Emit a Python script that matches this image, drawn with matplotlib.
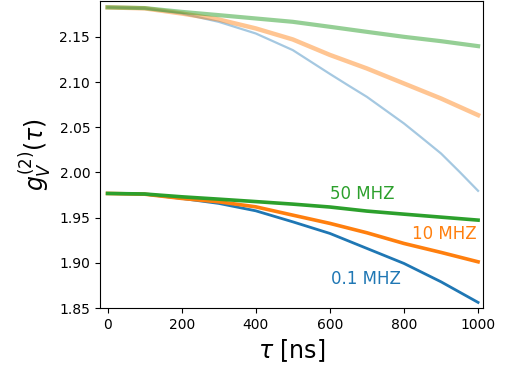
import matplotlib
matplotlib.use('Agg')
import matplotlib.pyplot as plt

# delay values (ns)
tau = [0, 100, 200, 300, 400, 500, 600, 700, 800, 900, 1000]
tau_fine = [0, 100, 200, 300, 400, 500, 600, 650, 700, 750, 800, 850, 900, 950, 1000]

# lower set (strong colours)
g_01_low = [1.9768, 1.9760, 1.9713, 1.9658, 1.9576, 1.9454, 1.9326, 1.9160, 1.8994, 1.8791, 1.8563]
g_10_low = [1.9768, 1.9760, 1.9713, 1.9676, 1.9620, 1.9528, 1.9437, 1.9333, 1.9215, 1.9116, 1.9012]
g_50_low = [1.9768, 1.9762, 1.9731, 1.9705, 1.9678, 1.9650, 1.9618, 1.9573, 1.9539, 1.9506, 1.9473]

# upper set (faded)
g_01_up = [2.1826, 2.1815, 2.1758, 2.1666, 2.1537, 2.1353, 2.1090, 2.0962, 2.0836,
           2.0689, 2.0542, 2.0377, 2.0210, 2.0007, 1.9797]
g_10_up = [2.1826, 2.1815, 2.1758, 2.1692, 2.1593, 2.1471, 2.1300, 2.1150, 2.0984, 2.0818, 2.0634]
g_50_up = [2.1826, 2.1818, 2.1776, 2.1740, 2.1703, 2.1666, 2.1611, 2.1555, 2.1500, 2.1452, 2.1397]

labels = ['0.1 MHZ', '10 MHZ', '50 MHZ']
label_pos = [(697, 1.882), (908, 1.932), (687, 1.976)]

fig = plt.figure(figsize=(5.10, 3.69), dpi=100)
ax = fig.add_axes([0.196, 0.165, 0.752, 0.832])

ax.plot(tau_fine, g_01_up, color='C0', lw=1.6, alpha=0.4)
ax.plot(tau, g_10_up, color='C1', lw=3.2, alpha=0.45)
ax.plot(tau, g_50_up, color='C2', lw=3.0, alpha=0.5)

ax.plot(tau, g_01_low, color='C0', lw=2.0)
ax.plot(tau, g_10_low, color='C1', lw=2.6)
ax.plot(tau, g_50_low, color='C2', lw=2.6)

colors = ['C0', 'C1', 'C2']
for lab, (x, y), c in zip(labels, label_pos, colors):
    ax.text(x, y, lab, color=c, fontsize=12, ha='center', va='center')

ax.set_xlim(-20.5, 1014.6)
ax.set_ylim(1.85, 2.1895)
ax.set_xticks([0, 200, 400, 600, 800, 1000])
ax.set_yticks([1.85, 1.90, 1.95, 2.00, 2.05, 2.10, 2.15])
ax.set_xlabel(r'$\tau$ [ns]', fontsize=17)
ax.set_ylabel(r'$g_V^{(2)}(\tau)$', fontsize=17)

plt.savefig('out.png', dpi=100)
